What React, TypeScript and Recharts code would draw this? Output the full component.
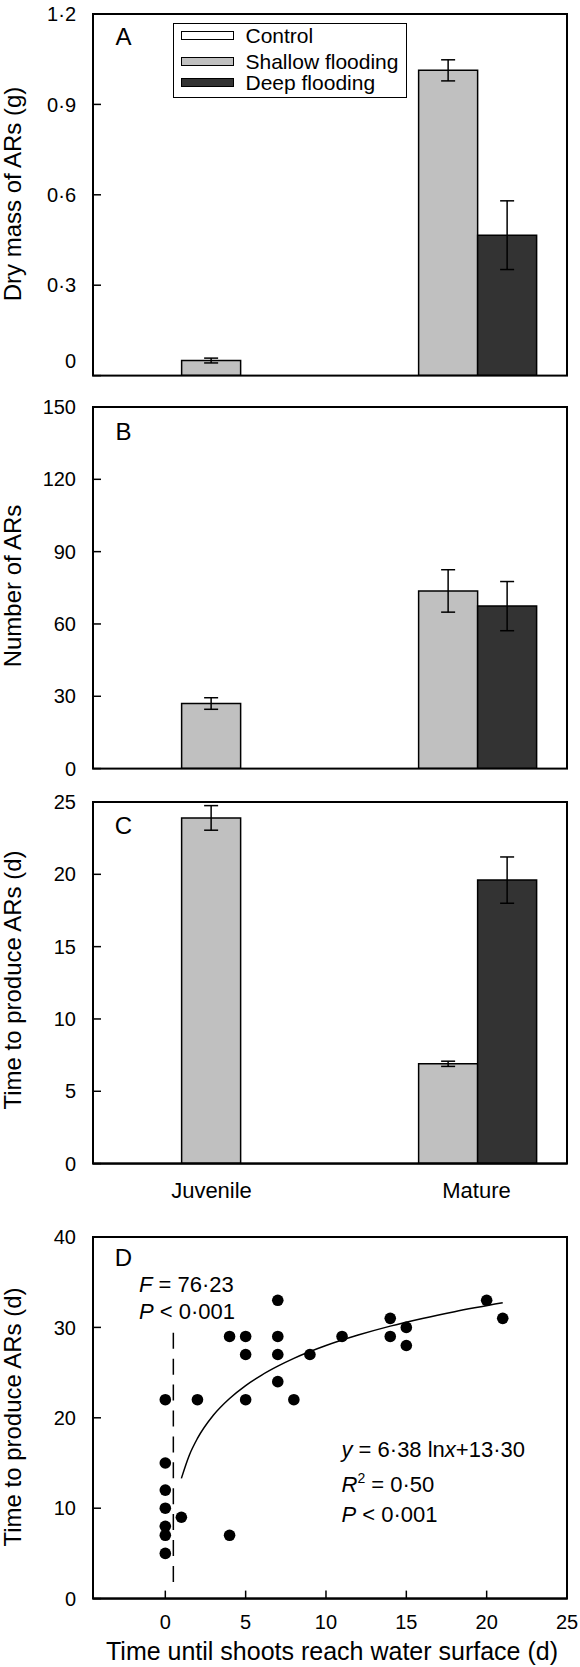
import React from "react";
import {
  BarChart,
  ComposedChart,
  Bar,
  ErrorBar,
  XAxis,
  YAxis,
  Legend,
  Scatter,
  Line,
  ReferenceLine,
} from "recharts";

const FONT = "'Liberation Sans', Arial, Helvetica, sans-serif";

// ---------- data ----------
const categories = ["Juvenile", "Mature"];
const seriesNames = ["Control", "Shallow flooding", "Deep flooding"];

// A: dry mass of ARs (g)
const dryMassControl = [null, null];
const dryMassShallow = [0.05, 1.013];
const dryMassShallowErr = [0.008, 0.035];
const dryMassDeep = [null, 0.466];
const dryMassDeepErr = [null, 0.114];
const dryMassTicks = [0, 0.3, 0.6, 0.9, 1.2];

// B: number of ARs
const numberControl = [null, null];
const numberShallow = [27, 73.7];
const numberShallowErr = [2.4, 8.8];
const numberDeep = [null, 67.4];
const numberDeepErr = [null, 10.2];
const numberTicks = [0, 30, 60, 90, 120, 150];

// C: time to produce ARs (d)
const timeControl = [null, null];
const timeShallow = [23.9, 6.9];
const timeShallowErr = [0.85, 0.18];
const timeDeep = [null, 19.6];
const timeDeepErr = [null, 1.6];
const timeTicks = [0, 5, 10, 15, 20, 25];

// D: scatter
const surfaceDays = [0, 0, 0, 0, 0, 0, 0, 1, 2, 4, 4, 5, 5, 5, 7, 7, 7, 7, 8, 9, 11, 14, 14, 15, 15, 20, 21];
const producingDays = [22, 15, 12, 10, 8, 7, 5, 9, 22, 29, 7, 29, 27, 22, 33, 29, 27, 24, 22, 27, 29, 31, 29, 30, 28, 33, 31];
const fitX = [1, 1.5, 2, 3, 4, 5, 6, 7, 8, 10, 12, 14, 16, 18, 21];
const fitY = [13.3, 15.89, 17.72, 20.31, 22.14, 23.57, 24.73, 25.71, 26.57, 27.99, 29.15, 30.14, 30.99, 31.74, 32.72];
const surfaceTicks = [0, 5, 10, 15, 20, 25];
const produceTicks = [0, 10, 20, 30, 40];

// ---------- styles / layout ----------
const COLORS = ["#ffffff", "#c0c0c0", "#333333"];
const AXIS = { stroke: "#000", strokeWidth: 2 };
const Y_TICK_MARGIN = 17;
const TICK_FS = 20;
const CAT_DX: Record<string, number> = { Juvenile: 0, Mature: 28 };

const CHART_W = 580;
const MARGIN_TOP = 14;
const MARGIN_RIGHT = 13;
const Y_AXIS_W = 93;
const PLOT_BOTTOM = 375.6;
const PANEL_TOPS = [0, 393, 788, 1223];

const fmt = (v: number) => String(v).replace(".", "·");

const buildRows = (c: any[], s: any[], se: any[], d: any[], de: any[]) =>
  categories.map((cat, i) => ({
    cat,
    control: c[i],
    shallow: s[i],
    shallowErr: se[i],
    deep: d[i],
    deepErr: de[i],
  }));

const dryMassRows = buildRows(dryMassControl, dryMassShallow, dryMassShallowErr, dryMassDeep, dryMassDeepErr);
const numberRows = buildRows(numberControl, numberShallow, numberShallowErr, numberDeep, numberDeepErr);
const timeRows = buildRows(timeControl, timeShallow, timeShallowErr, timeDeep, timeDeepErr);
const scatterRows = surfaceDays.map((x, i) => ({ x, y: producingDays[i] }));
const fitRows = fitX.map((x, i) => ({ x, y: fitY[i] }));

const makeYTick = (zeroShift: number) => (props: any) => {
  const { x, y, payload } = props;
  const axisX = x + Y_TICK_MARGIN;
  const v = payload.value;
  const shift = v === 0 ? zeroShift : 0;
  return (
    <g>
      <line x1={axisX} x2={axisX + 8} y1={y} y2={y} stroke="#000" strokeWidth={1.5} />
      <text
        x={x}
        y={y + shift + 0.358 * TICK_FS}
        textAnchor="end"
        fontSize={TICK_FS}
        fontFamily={FONT}
        fill="#000"
      >
        {fmt(v)}
      </text>
    </g>
  );
};

const CategoryTick = (props: any) => {
  const { x, y, payload } = props;
  const dx = CAT_DX[payload.value] || 0;
  return (
    <text x={x + dx} y={y + 34} textAnchor="middle" fontSize={22} fontFamily={FONT} fill="#000">
      {payload.value}
    </text>
  );
};

const XNumTick = (props: any) => {
  const { x, y, payload } = props;
  return (
    <g>
      <line x1={x} x2={x} y1={y} y2={y - 8} stroke="#000" strokeWidth={1.5} />
      <text x={x} y={y + 30.5} textAnchor="middle" fontSize={TICK_FS} fontFamily={FONT} fill="#000">
        {fmt(payload.value)}
      </text>
    </g>
  );
};

// legend rows: centre of swatch relative to box top (outer)
const LEGEND_ROW_CY = [12.7, 39.2, 60];

const LegendBox = (props: any) => {
  const payload = (props.payload || []) as any[];
  const items = seriesNames.map((name, i) => {
    const p = payload.find((e) => e.value === name);
    return { name, color: p ? p.color : COLORS[i] };
  });
  return (
    <div
      style={{
        position: "relative",
        width: 234,
        height: 75,
        boxSizing: "border-box",
        border: "1.5px solid #000",
        background: "#fff",
        fontFamily: FONT,
      }}
    >
      {items.map((it, i) => (
        <React.Fragment key={it.name}>
          <div
            style={{
              position: "absolute",
              left: 6.9,
              top: LEGEND_ROW_CY[i] - 4.5 - 1.5,
              width: 53.5,
              height: 9,
              boxSizing: "border-box",
              border: "1.5px solid #000",
              background: it.color,
            }}
          />
          <div
            style={{
              position: "absolute",
              left: 71.5,
              top: LEGEND_ROW_CY[i] - 10.5 - 1.5,
              fontSize: 21,
              lineHeight: "21px",
              whiteSpace: "nowrap",
              color: "#000",
            }}
          >
            {it.name}
          </div>
        </React.Fragment>
      ))}
    </div>
  );
};

function BarPanel(props: {
  rows: any[];
  domain: [number, number];
  ticks: number[];
  top: number;
  height: number;
  showCategories?: boolean;
  zeroShift?: number;
  withLegend?: boolean;
}) {
  const { rows, domain, ticks, top, height, showCategories, zeroShift = 0, withLegend } = props;
  const xh = showCategories ? 40 : 0;
  const bottom = height - PLOT_BOTTOM - xh;
  return (
    <div style={{ position: "absolute", left: 0, top }}>
      <BarChart
        width={CHART_W}
        height={height}
        data={rows}
        margin={{ top: MARGIN_TOP, right: MARGIN_RIGHT, bottom, left: 0 }}
        barCategoryGap="12.5%"
        barGap={0}
      >
        <XAxis
          dataKey="cat"
          type="category"
          axisLine={AXIS}
          tickLine={false}
          tickSize={0}
          tickMargin={0}
          height={xh}
          interval={0}
          tick={showCategories ? CategoryTick : false}
        />
        <YAxis
          type="number"
          domain={domain}
          ticks={ticks}
          width={Y_AXIS_W}
          axisLine={AXIS}
          tickLine={false}
          tickSize={0}
          tickMargin={Y_TICK_MARGIN}
          interval={0}
          allowDataOverflow
          tick={makeYTick(zeroShift)}
        />
        {withLegend && (
          <Legend
            layout="vertical"
            align="center"
            verticalAlign="middle"
            wrapperStyle={{ left: 173, top: 23, width: 234, height: 75 }}
            content={LegendBox}
          />
        )}
        <Bar dataKey="control" name={seriesNames[0]} fill={COLORS[0]} stroke="#000" strokeWidth={1.5} isAnimationActive={false} />
        <Bar dataKey="shallow" name={seriesNames[1]} fill={COLORS[1]} stroke="#000" strokeWidth={1.5} isAnimationActive={false}>
          <ErrorBar dataKey="shallowErr" width={7} stroke="#000" strokeWidth={1.5} direction="y" />
        </Bar>
        <Bar dataKey="deep" name={seriesNames[2]} fill={COLORS[2]} stroke="#000" strokeWidth={1.5} isAnimationActive={false}>
          <ErrorBar dataKey="deepErr" width={7} stroke="#000" strokeWidth={1.5} direction="y" />
        </Bar>
      </BarChart>
    </div>
  );
}

const Dot = (props: any) => {
  const { cx, cy } = props;
  if (cx == null || cy == null) return null;
  return <circle cx={cx} cy={cy} r={5.8} fill="#000" />;
};

function ScatterPanel({ top }: { top: number }) {
  const height = 444;
  const xh = 40;
  const bottom = height - PLOT_BOTTOM - xh;
  return (
    <div style={{ position: "absolute", left: 0, top }}>
      <ComposedChart width={CHART_W} height={height} margin={{ top: MARGIN_TOP, right: MARGIN_RIGHT, bottom, left: 0 }}>
        <XAxis
          type="number"
          dataKey="x"
          domain={[-4.5, 25]}
          ticks={surfaceTicks}
          height={xh}
          axisLine={AXIS}
          tickLine={false}
          tickSize={0}
          tickMargin={0}
          interval={0}
          allowDataOverflow
          tick={XNumTick}
        />
        <YAxis
          type="number"
          domain={[0, 40]}
          ticks={produceTicks}
          width={Y_AXIS_W}
          axisLine={AXIS}
          tickLine={false}
          tickSize={0}
          tickMargin={Y_TICK_MARGIN}
          interval={0}
          allowDataOverflow
          tick={makeYTick(0)}
        />
        <ReferenceLine
          segment={[
            { x: 0.5, y: 29.4 },
            { x: 0.5, y: 1.4 },
          ]}
          stroke="#000"
          strokeWidth={1.5}
          strokeDasharray="16 9.9"
        />
        <Line
          data={fitRows}
          dataKey="y"
          type="monotone"
          stroke="#000"
          strokeWidth={1.5}
          dot={false}
          activeDot={false}
          isAnimationActive={false}
        />
        <Scatter data={scatterRows} dataKey="y" shape={Dot} isAnimationActive={false} />
      </ComposedChart>
    </div>
  );
}

const panelLetters = ["A", "B", "C", "D"];
const LETTER_BASELINES = [44.6, 440.3, 833.6, 1265.6];
const yTitles = ["Dry mass of ARs (g)", "Number of ARs", "Time to produce ARs (d)", "Time to produce ARs (d)"];
const Y_TITLE_CY = [194, 586, 980, 1417];
const xTitle = "Time until shoots reach water surface (d)";

function Overlay() {
  const ann = { fontSize: 22, fontFamily: FONT, fill: "#000" } as const;
  const plotW = CHART_W - MARGIN_RIGHT - Y_AXIS_W;
  const plotH = PLOT_BOTTOM - MARGIN_TOP;
  return (
    <svg
      width={580}
      height={1667}
      style={{ position: "absolute", left: 0, top: 0, pointerEvents: "none" }}
    >
      {PANEL_TOPS.map((t, i) => (
        <rect
          key={"frame" + i}
          x={Y_AXIS_W}
          y={t + MARGIN_TOP}
          width={plotW}
          height={plotH}
          fill="none"
          stroke="#000"
          strokeWidth={2}
        />
      ))}
      {panelLetters.map((l, i) => (
        <text key={l} x={123.5} y={LETTER_BASELINES[i]} textAnchor="middle" fontSize={24} fontFamily={FONT} fill="#000">
          {l}
        </text>
      ))}
      {yTitles.map((t, i) => (
        <text
          key={i}
          transform={`translate(21, ${Y_TITLE_CY[i]}) rotate(-90)`}
          textAnchor="middle"
          fontSize={24}
          fontFamily={FONT}
          fill="#000"
        >
          {t}
        </text>
      ))}
      <text x={332} y={1660} textAnchor="middle" fontSize={25} fontFamily={FONT} fill="#000">
        {xTitle}
      </text>
      <text x={139} y={1292} {...ann}>
        <tspan fontStyle="italic">F</tspan> = 76·23
      </text>
      <text x={139} y={1318.5} {...ann}>
        <tspan fontStyle="italic">P</tspan> {"<"} 0·001
      </text>
      <text x={341.5} y={1457} {...ann}>
        <tspan fontStyle="italic">y</tspan> = 6·38 ln<tspan fontStyle="italic">x</tspan>+13·30
      </text>
      <text x={341.5} y={1491.5} {...ann}>
        <tspan fontStyle="italic">R</tspan>
        <tspan fontSize={14} dy={-9}>2</tspan>
        <tspan dy={9}> = 0·50</tspan>
      </text>
      <text x={341.5} y={1521.5} {...ann}>
        <tspan fontStyle="italic">P</tspan> {"<"} 0·001
      </text>
    </svg>
  );
}

export default function App() {
  return (
    <div style={{ position: "absolute", left: 0, top: 0, width: 580, height: 1667, background: "#fff", fontFamily: FONT }}>
      <BarPanel rows={dryMassRows} domain={[0, 1.2]} ticks={dryMassTicks} top={PANEL_TOPS[0]} height={390} zeroShift={-14.7} withLegend />
      <BarPanel rows={numberRows} domain={[0, 150]} ticks={numberTicks} top={PANEL_TOPS[1]} height={390} />
      <BarPanel rows={timeRows} domain={[0, 25]} ticks={timeTicks} top={PANEL_TOPS[2]} height={430} showCategories />
      <ScatterPanel top={PANEL_TOPS[3]} />
      <Overlay />
    </div>
  );
}
